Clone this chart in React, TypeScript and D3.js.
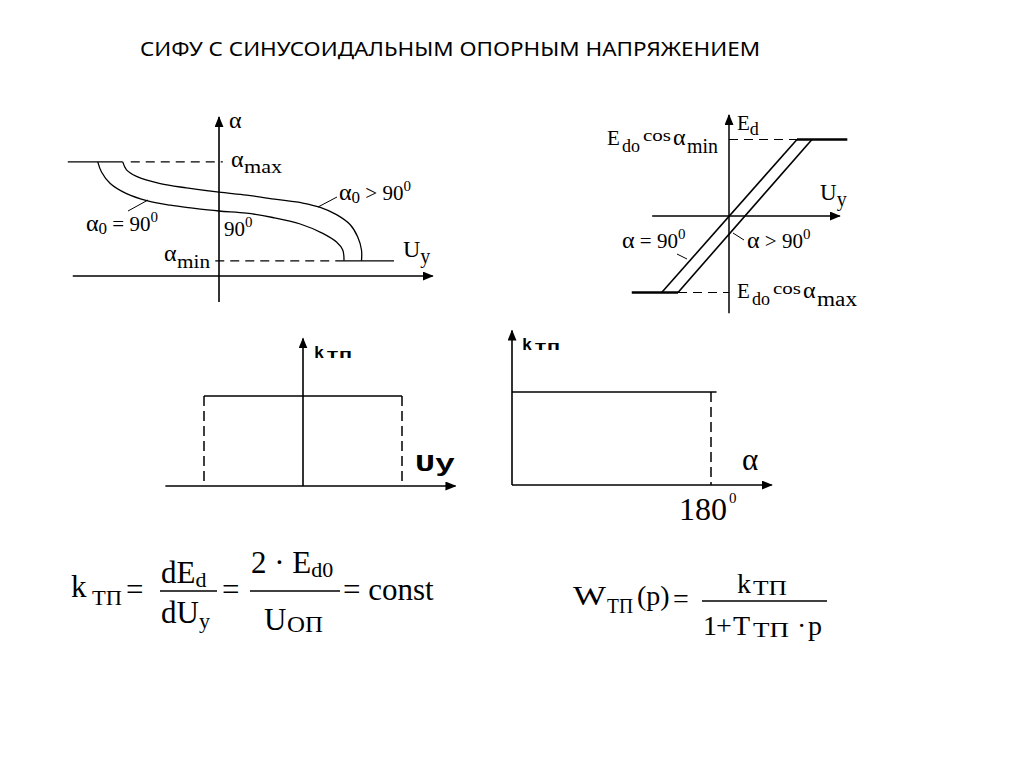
import React from 'react';
import * as d3 from 'd3';

// title
const title = 'СИФУ С СИНУСОИДАЛЬНЫМ ОПОРНЫМ НАПРЯЖЕНИЕМ';

// panel 1: control angle vs control voltage (alpha in degrees, Uy in relative units)
const uyAlpha90 = [-0.97, -0.94, -0.87, -0.74, -0.57, -0.39, -0.21, 0, 0.22, 0.43, 0.65, 0.83, 0.94, 0.99, 1.0];
const alpha90 = [158, 144, 128, 114, 104, 98, 94, 90, 87, 81, 72, 59, 47, 36, 21];
const uyAlphaOver = [-0.77, -0.74, -0.66, -0.47, -0.26, 0, 0.22, 0.46, 0.67, 0.81, 0.94, 1.05, 1.11, 1.14, 1.14];
const alphaOver = [158, 147, 138, 128, 122, 116, 112, 106, 101, 95, 85, 71, 54, 36, 21];
const alphaMax = 158;
const alphaMin = 21;
const uySatAlpha = [-1.21, 1.4];

// panel 2: Ed vs Uy (Ed relative to Ed0)
const edLimits = [-1, 1];
const uyEd90 = [-0.99, 1.0];
const uyEdOver = [-0.75, 1.22];
const uySatEd = [-1.43, 1.74];

// panel 3: k vs Uy
const uyK = [-1, 1];
const kLevel = 1;

// panel 4: k vs alpha
const alphaK = [0, 185];
const alphaEnd = 180;

const serif = '"Liberation Serif", "Times New Roman", serif';
const mono = '"Liberation Mono", "Courier New", monospace';
const fit = 'spacingAndGlyphs';

const Arrow = ({ id }: { id: string }) => (
  <marker id={id} viewBox="0 0 11 9" refX="10" refY="4.5" markerWidth="11" markerHeight="9" markerUnits="userSpaceOnUse" orient="auto">
    <path d="M0,0L11,4.5L0,9Z" fill="#000" />
  </marker>
);

const Panel1 = () => {
  const x = d3.scaleLinear().domain([0, 1]).range([219, 344]);
  const y = d3.scaleLinear().domain([0, 180]).range([276, 146]);
  const line = d3.line<[number, number]>().x((d) => x(d[0])).y((d) => y(d[1])).curve(d3.curveCatmullRom);
  const c90 = line(uyAlpha90.map((u, i) => [u, alpha90[i]]) as [number, number][]) || '';
  const cOver = line(uyAlphaOver.map((u, i) => [u, alphaOver[i]]) as [number, number][]) || '';
  return (
    <g fill="none" stroke="#000">
      <line x1={x(-1.17)} x2={x(1.71)} y1={y(0)} y2={y(0)} strokeWidth={1.6} markerEnd="url(#a1)" />
      <line x1={x(0)} x2={x(0)} y1={y(-36)} y2={y(220)} strokeWidth={1.6} markerEnd="url(#a1)" />
      <line x1={x(uySatAlpha[0])} x2={x(uyAlphaOver[0])} y1={y(alphaMax)} y2={y(alphaMax)} strokeWidth={1.4} />
      <line x1={x(uyAlphaOver[0]) + 8} x2={x(0.03)} y1={y(alphaMax)} y2={y(alphaMax)} strokeWidth={1.2} strokeDasharray="9 6" />
      <line x1={x(-0.03)} x2={x(uyAlpha90[uyAlpha90.length - 1])} y1={y(alphaMin)} y2={y(alphaMin)} strokeWidth={1.2} strokeDasharray="9 6" />
      <line x1={x(uyAlpha90[uyAlpha90.length - 1])} x2={x(uySatAlpha[1])} y1={y(alphaMin)} y2={y(alphaMin)} strokeWidth={1.4} />
      <path d={c90} strokeWidth={1.3} />
      <path d={cOver} strokeWidth={1.3} />
      <line x1={318} y1={207} x2={337} y2={197} strokeWidth={1} />
      <line x1={128} y1={211} x2={148} y2={200} strokeWidth={1} />
      <g fill="#000" stroke="none" fontFamily={serif} fontSize={21}>
        <text x={229} y={128} fontSize={24}>α</text>
        <text x={231} y={167} fontSize={24}>α</text>
        <text x={244} y={173} fontSize={19} textLength={38} lengthAdjust={fit}>max</text>
        <text x={164} y={261} fontSize={24}>α</text>
        <text x={177} y={268} fontSize={19} textLength={33} lengthAdjust={fit}>min</text>
        <text x={403} y={257} fontSize={24}>U<tspan fontSize={20} dy={6}>y</tspan></text>
        <text x={339} y={200}><tspan fontSize={24}>α</tspan><tspan fontSize={17} dy={3}>0</tspan><tspan dy={-3}> &gt; 90</tspan><tspan fontSize={15} dy={-9}>0</tspan></text>
        <text x={86} y={231}><tspan fontSize={24}>α</tspan><tspan fontSize={17} dy={3}>0</tspan><tspan dy={-3}> = 90</tspan><tspan fontSize={15} dy={-9}>0</tspan></text>
        <text x={224} y={236}>90<tspan fontSize={15} dy={-9}>0</tspan></text>
      </g>
    </g>
  );
};

const EdLabel = ({ x, y, sub }: { x: number; y: number; sub: string }) => (
  <g>
    <text x={x} y={y} fontSize={21}>E</text>
    <text x={x + 15} y={y + 7} fontSize={18} textLength={18} lengthAdjust={fit}>do</text>
    <text x={x + 36} y={y - 4} fontSize={16} textLength={28} lengthAdjust={fit}>cos</text>
    <text x={x + 66} y={y} fontSize={24}>α</text>
    <text x={x + 80} y={y + 8} fontSize={20} textLength={sub === 'max' ? 40 : 31} lengthAdjust={fit}>{sub}</text>
  </g>
);

const Panel2 = () => {
  const x = d3.scaleLinear().domain([0, 1]).range([729, 797]);
  const y = d3.scaleLinear().domain([0, 1]).range([216, 139.5]);
  const [lo, hi] = edLimits;
  return (
    <g fill="none" stroke="#000">
      <line x1={x(-1.13)} x2={x(1.63)} y1={y(0)} y2={y(0)} strokeWidth={1.5} markerEnd="url(#a1)" />
      <line x1={x(0)} x2={x(0)} y1={y(-1.27)} y2={y(1.32)} strokeWidth={1.5} markerEnd="url(#a1)" />
      <line x1={x(0)} x2={x(uyEd90[1])} y1={y(hi)} y2={y(hi)} strokeWidth={1.2} strokeDasharray="9 6" />
      <line x1={x(uyEdOver[0])} x2={x(0)} y1={y(lo)} y2={y(lo)} strokeWidth={1.2} strokeDasharray="9 6" />
      <line x1={x(uyEd90[1])} x2={x(uySatEd[1])} y1={y(hi)} y2={y(hi)} strokeWidth={2.6} />
      <line x1={x(uySatEd[0])} x2={x(uyEdOver[0])} y1={y(lo)} y2={y(lo)} strokeWidth={2.6} />
      <line x1={x(uyEd90[0])} x2={x(uyEd90[1])} y1={y(lo)} y2={y(hi)} strokeWidth={1.6} />
      <line x1={x(uyEdOver[0])} x2={x(uyEdOver[1])} y1={y(lo)} y2={y(hi)} strokeWidth={1.6} />
      <line x1={677} y1={254} x2={687} y2={259} strokeWidth={1} />
      <line x1={733} y1={233} x2={744} y2={240} strokeWidth={1} />
      <g fill="#000" stroke="none" fontFamily={serif} fontSize={21}>
        <text x={737} y={130}>E<tspan fontSize={18} dy={5}>d</tspan></text>
        <EdLabel x={607} y={145} sub="min" />
        <text x={820} y={200} fontSize={23}>U<tspan fontSize={20} dy={6}>y</tspan></text>
        <text x={622} y={248}><tspan fontSize={24}>α</tspan> = 90<tspan fontSize={15} dy={-9}>0</tspan></text>
        <text x={747} y={248}><tspan fontSize={24}>α</tspan> &gt; 90<tspan fontSize={15} dy={-9}>0</tspan></text>
        <EdLabel x={737} y={298} sub="max" />
      </g>
    </g>
  );
};

const KLabel = ({ x, y }: { x: number; y: number }) => (
  <g fontFamily={mono} fontWeight="bold" fill="#000" stroke="none">
    <text x={x} y={y} fontSize={17}>k</text>
    <text x={x + 12} y={y} fontSize={13} textLength={26} lengthAdjust={fit}>тп</text>
  </g>
);

const Panel3 = () => {
  const x = d3.scaleLinear().domain([0, 1]).range([303, 402]);
  const y = d3.scaleLinear().domain([0, 1]).range([486, 396]);
  return (
    <g fill="none" stroke="#000">
      <line x1={x(-1.39)} x2={x(1.54)} y1={y(0)} y2={y(0)} strokeWidth={1.6} markerEnd="url(#a1)" />
      <line x1={x(0)} x2={x(0)} y1={y(0)} y2={y(1.64)} strokeWidth={1.6} markerEnd="url(#a1)" />
      <line x1={x(uyK[0])} x2={x(uyK[1])} y1={y(kLevel)} y2={y(kLevel)} strokeWidth={1.6} />
      {uyK.map((u) => (
        <line key={u} x1={x(u)} x2={x(u)} y1={y(kLevel)} y2={y(0)} strokeWidth={1.5} strokeDasharray="10 5" />
      ))}
      <KLabel x={314} y={358} />
      <text x={415} y={471} fontFamily={mono} fontWeight="bold" fontSize={24} fill="#000" stroke="none" textLength={40} lengthAdjust={fit}>Uy</text>
    </g>
  );
};

const Panel4 = () => {
  const x = d3.scaleLinear().domain([0, 180]).range([512, 711]);
  const y = d3.scaleLinear().domain([0, 1]).range([485, 392]);
  return (
    <g fill="none" stroke="#000">
      <line x1={x(0)} x2={x(235)} y1={y(0)} y2={y(0)} strokeWidth={1.6} markerEnd="url(#a1)" />
      <line x1={x(0)} x2={x(0)} y1={y(0)} y2={y(1.66)} strokeWidth={1.6} markerEnd="url(#a1)" />
      <line x1={x(alphaK[0])} x2={x(alphaK[1])} y1={y(kLevel)} y2={y(kLevel)} strokeWidth={1.6} />
      <line x1={x(alphaEnd)} x2={x(alphaEnd)} y1={y(kLevel)} y2={y(0)} strokeWidth={1.5} strokeDasharray="10 5" />
      <KLabel x={522} y={350} />
      <g fill="#000" stroke="none" fontFamily={serif}>
        <text x={742} y={470} fontSize={31}>α</text>
        <text x={679} y={520} fontSize={32}>180</text>
        <text x={729} y={503} fontSize={15}>0</text>
      </g>
    </g>
  );
};

const Formulas = () => (
  <g fill="#000" fontFamily={serif}>
    <text x={71} y={597} fontSize={31}>k</text>
    <text x={92} y={605} fontSize={22} textLength={30} lengthAdjust={fit}>ТП</text>
    <text x={126} y={600} fontSize={31}>=</text>
    <text x={161} y={583} fontSize={31}>dE<tspan fontSize={22} dy={4}>d</tspan></text>
    <line x1={160} x2={217} y1={591} y2={591} stroke="#000" strokeWidth={1.3} />
    <text x={161} y={623} fontSize={31}>dU<tspan fontSize={22} dy={5}>y</tspan></text>
    <text x={222} y={600} fontSize={31}>=</text>
    <text x={251} y={573} fontSize={31}>2 · E<tspan fontSize={22} dy={4}>d</tspan><tspan fontSize={22}>0</tspan></text>
    <line x1={250} x2={340} y1={591} y2={591} stroke="#000" strokeWidth={1.3} />
    <text x={264} y={630} fontSize={31}>U</text>
    <text x={287} y={632} fontSize={24} textLength={36} lengthAdjust={fit}>ОП</text>
    <text x={343} y={600} fontSize={31}>= const</text>

    <text x={573} y={605} fontSize={28} textLength={33} lengthAdjust={fit}>W</text>
    <text x={607} y={613} fontSize={21} textLength={26} lengthAdjust={fit}>ТП</text>
    <text x={637} y={605} fontSize={28}>(p)</text>
    <text x={673} y={608} fontSize={28}>=</text>
    <text x={737} y={593} fontSize={28}>k</text>
    <text x={753} y={595} fontSize={21} textLength={34} lengthAdjust={fit}>ТП</text>
    <line x1={702} x2={827} y1={601} y2={601} stroke="#000" strokeWidth={1.3} />
    <text x={703} y={635} fontSize={28}>1</text>
    <text x={716} y={635} fontSize={28}>+</text>
    <text x={733} y={635} fontSize={28}>T</text>
    <text x={753} y={637} fontSize={21} textLength={36} lengthAdjust={fit}>ТП</text>
    <text x={797} y={635} fontSize={28}>·</text>
    <text x={808} y={635} fontSize={28}>p</text>
  </g>
);

export default function App() {
  return (
    <svg width={1024} height={767} style={{ position: 'absolute', left: 0, top: 0, background: '#fff' }}>
      <defs>
        <Arrow id="a1" />
      </defs>
      <rect width={1024} height={767} fill="#fff" />
      <text x={140} y={56} fontFamily='"Noto Sans", sans-serif' fontSize={20} textLength={620} lengthAdjust={fit}>{title}</text>
      <Panel1 />
      <Panel2 />
      <Panel3 />
      <Panel4 />
      <Formulas />
    </svg>
  );
}
